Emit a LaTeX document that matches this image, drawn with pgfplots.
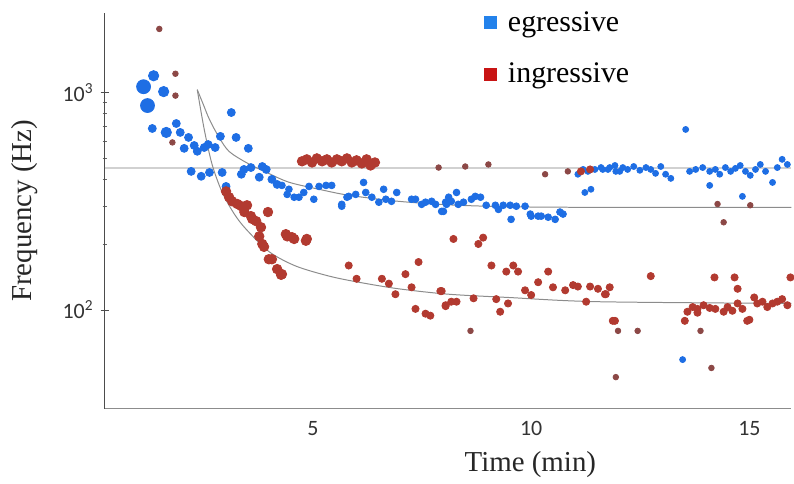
\documentclass[border=0pt]{standalone}
\usepackage{fontspec}
\setmainfont{Liberation Serif}
\newfontfamily\carlito{Carlito}
\usepackage{pgfplots}
\pgfplotsset{compat=1.18}

\definecolor{egblue}{RGB}{30,110,228}
\definecolor{ingred}{RGB}{178,58,48}
\definecolor{ingdark}{RGB}{140,72,70}
\definecolor{legblue}{RGB}{35,130,235}
\definecolor{legred}{RGB}{200,20,20}

\begin{document}
\begin{tikzpicture}
\begin{axis}[
    width=344.5pt, height=198.5pt, scale only axis,
    ymode=log,
    xmin=0.228, xmax=15.96,
    ymin=35.1, ymax=2328,
    axis x line*=bottom, axis y line*=left,
    x axis line style={black!45},
    y axis line style={black!70},
    xtick={5,10,15}, xticklabels={5,10,15},
    ytick={100,1000}, yticklabels={10\textsuperscript{2},10\textsuperscript{3}},
    xtick style={draw=none},
    ytick style={black!70},
    minor y tick style={black!60},
    tick align=center,
    major tick length=4pt, minor tick length=2pt,
    tick label style={font=\carlito\fontsize{11}{12}\selectfont, text=black!80},
    xticklabel style={yshift=-1pt},
    xlabel={Time (min)},
    ylabel={Frequency (Hz)},
    label style={font=\fontsize{14.5}{16}\selectfont, text=black!85},
    xlabel style={at={(axis description cs:0.62,-0.108)}, anchor=north, inner sep=0pt},
    ylabel style={at={(axis description cs:-0.097,0.5)}, anchor=south, inner sep=0pt},
    legend style={at={(rel axis cs:0.552,1.015)}, anchor=north west, draw=none, fill=none,
        font=\fontsize{15}{17}\selectfont, row sep=10.5pt, inner sep=0pt},
    legend cell align=left,
]
\addlegendimage{only marks, mark=square*, mark size=3pt, color=legblue}
\addlegendentry{\hspace{4pt}egressive}
\addlegendimage{only marks, mark=square*, mark size=3pt, color=legred}
\addlegendentry{\hspace{4pt}ingressive}

% reference level
\addplot[draw=black!18, line width=1pt, forget plot] coordinates {(0.228,448) (15.96,448)};
% fitted decays
\addplot[draw=black!45, line width=0.5pt, smooth, forget plot] coordinates {
  (2.35,1032) (2.49,881) (2.63,752) (2.85,622) (3.08,536) (3.47,477) (3.93,430)
  (4.45,387) (5.14,359) (5.82,337) (6.96,316) (8.33,303) (10.39,297) (15.96,296)};
\addplot[draw=black!45, line width=0.5pt, smooth, forget plot] coordinates {
  (2.35,1032) (2.51,677) (2.69,467) (2.92,348) (3.20,276) (3.47,235) (4.00,185)
  (4.61,159) (5.37,143) (6.05,134) (6.96,125) (8.11,118) (9.48,114) (11.53,109) (15.96,107)};

% egressive
\addplot[only marks, mark=*, mark size=3.5pt, color=egblue, forget plot]
  coordinates {(1.12,1065) (1.21,872)};
\addplot[only marks, mark=*, mark size=2.6pt, color=egblue, forget plot]
  coordinates {(1.35,1196) (1.58,1011) (1.64,656)};
\addplot[only marks, mark=*, mark size=2pt, color=egblue, forget plot]
  coordinates {(1.32,684) (1.87,721) (1.96,656) (2.15,622) (2.05,554) (2.28,571) (2.35,537)
  (2.51,559) (2.60,577) (2.76,559) (2.88,629) (3.13,810) (3.24,622) (3.52,554)
  (2.21,434) (2.44,412) (2.63,429) (2.92,429) (3.01,370) (3.36,421) (3.42,443) (3.58,452)
  (3.77,408) (3.84,457) (3.93,443) (4.06,399) (4.18,378)};
\addplot[only marks, mark=*, mark size=1.7pt, color=egblue, forget plot]
  coordinates {(4.29,374) (4.41,340) (4.57,330) (4.79,347) (4.91,370) (5.02,323) (5.14,370)
  (5.30,374) (5.43,374) (5.66,306) (5.78,330) (5.98,340) (4.45,359) (4.68,330)
  (5.66,300) (5.82,333) (6.16,386) (6.21,347) (6.35,330) (6.51,313) (6.62,359) (6.67,323)
  (6.80,316) (6.92,347) (7.26,323) (7.35,323) (7.49,306) (7.58,313) (7.72,316) (7.81,306)
  (7.95,284) (8.06,306) (8.11,330) (8.29,347) (7.99,284) (8.17,316) (8.33,306) (8.63,323)
  (8.84,330) (8.97,303) (9.25,290) (9.52,303) (9.54,261) (9.86,300) (10.00,270) (10.23,270)
  (10.55,261) (10.73,276) (8.04,313) (8.45,313) (8.72,333) (9.18,303) (9.36,303) (9.66,300)
  (9.98,276) (10.16,270) (10.39,267) (10.66,282)};
\addplot[only marks, mark=*, mark size=1.5pt, color=egblue, forget plot]
  coordinates {(11.07,421) (11.19,443) (11.30,434) (11.46,443) (11.60,452) (11.76,443)
  (11.92,462) (12.03,434) (11.23,347) (11.37,359)
  (11.64,443) (11.80,452) (11.94,434) (12.10,452) (12.21,443) (12.35,457) (12.49,439)
  (12.63,452) (12.74,443) (12.85,425) (12.97,457) (13.08,421) (13.20,403) (13.54,677)
  (13.63,434) (13.77,443) (13.93,452) (14.09,434) (14.22,443) (14.32,421) (14.45,452)
  (14.57,434) (14.68,448) (14.79,462) (14.91,434) (15.02,416) (15.14,443) (15.25,467)
  (15.37,434) (15.53,386) (15.64,452) (15.75,493) (15.87,467) (14.09,374) (14.84,333)
  (13.47,59)};

% ingressive
\addplot[only marks, mark=*, mark size=2.4pt, color=ingred, forget plot]
  coordinates {(4.75,483) (4.86,493) (4.98,477) (5.09,498) (5.21,483) (5.32,493) (5.43,477)
  (5.55,493) (5.66,483) (5.78,498) (5.89,477) (6.00,488) (6.12,472) (6.23,493) (6.32,462)
  (6.42,477)
  (3.01,351) (3.15,316) (3.36,300) (3.49,303) (3.58,270) (3.70,256) (3.97,282) (3.77,218)
  (3.84,201) (3.88,195) (4.06,171) (4.18,154) (4.27,145) (4.38,223) (4.52,216) (4.84,208)
  (4.41,218) (4.57,212) (4.86,212) (4.29,146) (3.08,330) (3.27,307) (3.43,282) (3.61,262)
  (3.81,240) (3.99,171)};
\addplot[only marks, mark=*, mark size=1.8pt, color=ingred, forget plot]
  coordinates {(5.82,160) (6.00,139) (6.58,139) (6.74,132) (6.89,118) (7.12,146) (7.26,127)
  (7.42,166) (7.92,122) (7.35,101) (7.58,96) (7.69,94) (8.04,104) (8.17,109) (8.22,212)
  (8.79,201) (8.90,215) (9.09,160) (9.43,150) (9.59,160) (9.70,150) (10.39,150) (10.16,134)
  (9.86,123) (10.00,117) (10.50,127) (10.78,123) (11.07,128) (11.35,128) (11.80,127)
  (11.71,118) (7.95,122) (8.04,105) (8.29,109) (8.68,113) (9.20,112) (9.47,107) (9.29,98)
  (11.26,109) (11.87,89) (10.96,130) (11.53,125) (11.14,434) (11.35,443)
  (12.74,143) (11.92,89) (14.20,141) (14.66,141) (14.73,125) (15.11,114) (13.52,89) (13.81,97)
  (14.95,89) (11.69,118)
  (13.58,98) (13.70,103) (13.81,101) (13.95,105) (14.09,102) (14.22,101) (14.41,98) (14.50,103)
  (14.61,99) (14.73,107) (14.84,101) (15.00,90) (15.18,107) (15.30,109) (15.41,103) (15.53,107)
  (15.64,109) (15.75,112) (15.87,105) (15.94,141)};
\addplot[only marks, mark=*, mark size=1.4pt, color=ingdark, forget plot]
  coordinates {(1.48,1965) (1.85,1222) (1.85,969) (1.78,590) (7.88,452) (8.49,457) (9.02,467)
  (10.32,421) (10.84,434) (8.61,80) (11.99,80) (12.44,80) (11.94,49) (14.13,54) (13.88,80)
  (14.27,307) (15.02,303) (14.41,253)};
\end{axis}
\path ([xshift=-52.5pt, yshift=-37.5pt]current axis.south west) rectangle ([yshift=6.5pt]current axis.north east);
\end{tikzpicture}
\end{document}
